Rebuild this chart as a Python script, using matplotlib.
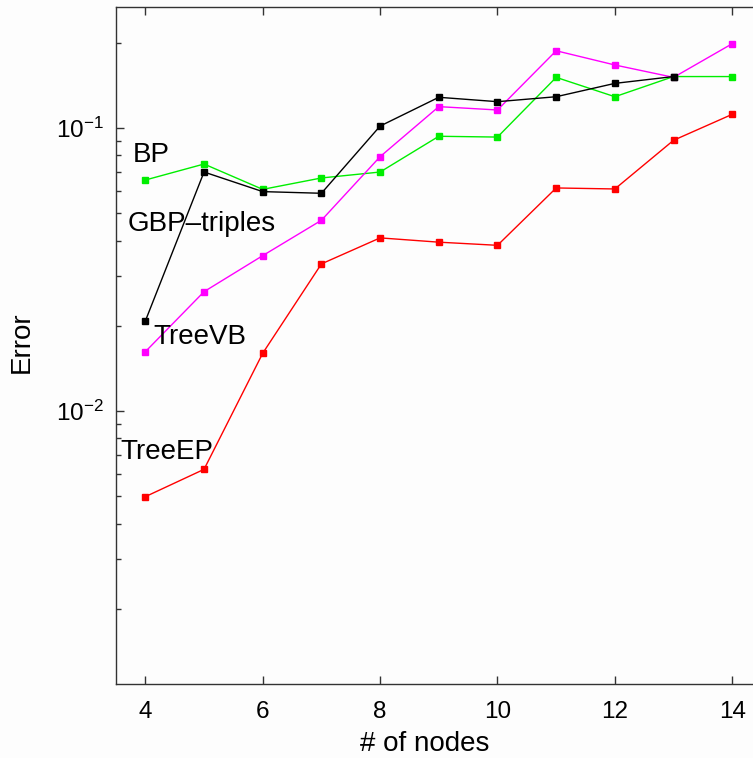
import matplotlib
matplotlib.use("Agg")
import matplotlib.pyplot as plt
from matplotlib.ticker import LogLocator, FixedLocator, NullFormatter

plt.rcParams["font.family"] = ["Liberation Sans", "DejaVu Sans"]
plt.rcParams["mathtext.fontset"] = "custom"
plt.rcParams["mathtext.rm"] = "Liberation Sans"
plt.rcParams["mathtext.it"] = "Liberation Sans:italic"
plt.rcParams["mathtext.bf"] = "Liberation Sans:bold"

# Number of nodes in the test graphs
nodes = [4, 5, 6, 7, 8, 9, 10, 11, 12, 13, 14]
gbp_nodes = [4, 5, 6, 7, 8, 9, 10, 11, 12, 13]

# Approximation error per method
bp_err = [0.0655, 0.0746, 0.0607, 0.0666, 0.0699, 0.0935, 0.0929, 0.151, 0.129, 0.152, 0.152]
gbp_err = [0.0208, 0.0699, 0.0596, 0.0588, 0.1016, 0.1284, 0.1239, 0.129, 0.1438, 0.152]
treevb_err = [0.0162, 0.0264, 0.0354, 0.0472, 0.0792, 0.119, 0.1158, 0.1875, 0.167, 0.151, 0.1986]
treeep_err = [0.00498, 0.00622, 0.0160, 0.0331, 0.0409, 0.0395, 0.0385, 0.0614, 0.0609, 0.0905, 0.1118]

x_ticks = [4, 6, 8, 10, 12, 14]

W, H = 753, 758
fig = plt.figure(figsize=(W / 100, H / 100), dpi=100)
fig.patch.set_facecolor("#fdfdfd")

left_px, right_px, top_px, bottom_px = 116, 761.6, 7, 684
ax = fig.add_axes([left_px / W, 1 - bottom_px / H,
                   (right_px - left_px) / W, (bottom_px - top_px) / H])
ax.set_facecolor("#fdfdfd")

ms = 4.2
ax.plot(nodes, bp_err, color="#00ee00", lw=1.0, marker="s", ms=ms, zorder=3)
ax.plot(nodes, treevb_err, color="#ff00ff", lw=1.0, marker="s", ms=ms, zorder=3)
ax.plot(nodes, treeep_err, color="#ff0000", lw=1.0, marker="s", ms=ms, zorder=3)
ax.plot(gbp_nodes, gbp_err, color="black", lw=1.0, marker="s", ms=ms, zorder=4)

ax.set_yscale("log")
ax.set_xlim(3.5, 14.5)
ax.set_ylim(1.0845e-3, 0.2677)
ax.xaxis.set_major_locator(FixedLocator(x_ticks))
ax.yaxis.set_major_locator(LogLocator(base=10, numticks=10))
ax.yaxis.set_minor_locator(LogLocator(base=10, subs=range(2, 10), numticks=20))
ax.yaxis.set_minor_formatter(NullFormatter())

ax.tick_params(which="both", direction="in", top=True, right=True,
               color="#333333", width=1.0)
ax.tick_params(which="major", length=6, labelsize=17.5)
ax.tick_params(which="minor", length=3.5)
ax.tick_params(axis="x", pad=12)
ax.tick_params(axis="y", pad=9)
for s in ax.spines.values():
    s.set_color("#333333")
    s.set_linewidth(1.0)

ax.set_xlabel("# of nodes", fontsize=20)
ax.set_ylabel("Error", fontsize=20)
ax.xaxis.set_label_coords((425 - left_px) / (right_px - left_px),
                          (bottom_px - 731) / (bottom_px - top_px))
ax.yaxis.set_label_coords((35 - left_px) / (right_px - left_px),
                          (bottom_px - 342) / (bottom_px - top_px))

lab_kw = dict(fontsize=20, ha="left", va="center", color="black", zorder=5)
ax.text(3.79, 0.0803, "BP", **lab_kw)
ax.text(3.70, 0.0458, "GBP\u2013triples", **lab_kw)
ax.text(4.13, 0.01826, "TreeVB", **lab_kw)
ax.text(3.57, 0.00716, "TreeEP", **lab_kw)

fig.savefig("out.png", dpi=100, facecolor=fig.get_facecolor())
